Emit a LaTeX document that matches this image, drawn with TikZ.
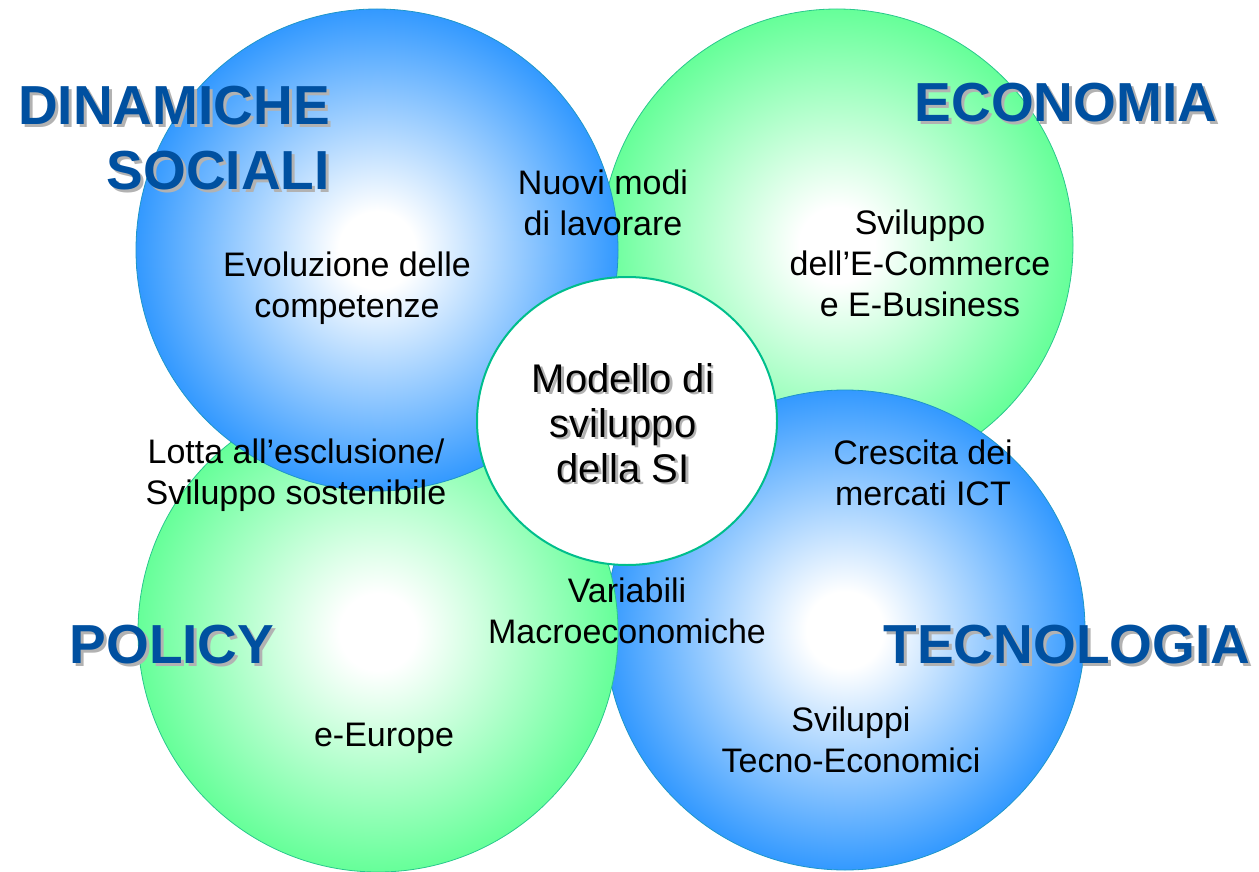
\documentclass[tikz,border=0pt]{standalone}
\usepackage{fontspec}
\setmainfont{Liberation Sans}

\definecolor{ballblue}{RGB}{51,153,255}
\definecolor{ballgreen}{RGB}{102,255,153}
\definecolor{rimblue}{RGB}{30,150,200}
\definecolor{rimgreen}{RGB}{40,200,140}
\definecolor{rimteal}{RGB}{0,190,140}
\definecolor{headblue}{RGB}{0,80,160}

\pgfdeclareradialshading{blueball}{\pgfpoint{0bp}{0bp}}{color(0bp)=(white); color(4bp)=(white); color(25bp)=(ballblue); color(50bp)=(ballblue)}
\pgfdeclareradialshading{greenball}{\pgfpoint{0bp}{0bp}}{color(0bp)=(white); color(4bp)=(white); color(25bp)=(ballgreen); color(50bp)=(ballgreen)}

\begin{document}
\begin{tikzpicture}[
        x=1pt, y=-1pt,
        ball/.style={line width=0.8pt},
        headline/.style={font=\fontsize{55}{65}\selectfont\bfseries, text=headblue, inner sep=0pt},
        headshadow/.style={headline, text=black!30},
        note/.style={font=\fontsize{34}{41}\selectfont, align=center, inner sep=0pt},
        hub/.style={font=\fontsize{40}{45}\selectfont, align=center, inner sep=0pt},
        hubshadow/.style={hub, text=black!30},
      ]

      \useasboundingbox (0,0) rectangle (1259,872);

      % spheres, back to front
      \shadedraw[ball, shading=greenball, draw=rimgreen] (837,245) circle (236pt);
      \shadedraw[ball, shading=blueball, draw=rimblue] (845,630) circle (240pt);
      \shadedraw[ball, shading=greenball, draw=rimgreen] (378,632) circle (240pt);
      \shadedraw[ball, shading=blueball, draw=rimblue] (377,250) circle (241pt);
      \draw[draw=rimteal, line width=2pt, fill=white] (627,421) ellipse [x radius=150pt, y radius=144pt];

      % headings with shadow
      \node[headshadow, anchor=east, align=right] (dinamiche-sh) at (333,141) {DINAMICHE\\SOCIALI};
      \node[headline, anchor=east, align=right] (dinamiche) at (330,138) {DINAMICHE\\SOCIALI};
      \node[headshadow] (economia-sh) at (1069,106) {ECONOMIA};
      \node[headline] (economia) at (1066,103) {ECONOMIA};
      \node[headshadow] (policy-sh) at (175,648) {POLICY};
      \node[headline] (policy) at (172,645) {POLICY};
      \node[headshadow] (tecnologia-sh) at (1070,648) {TECNOLOGIA};
      \node[headline] (tecnologia) at (1067,645) {TECNOLOGIA};

      % centre
      \node[hubshadow] (modello-sh) at (625.5,425.5) {Modello di\\sviluppo\\della SI};
      \node[hub] (modello) at (623,423) {Modello di\\sviluppo\\della SI};

      % overlaps and insides
      \node[note] (lavoro) at (603,203) {Nuovi modi\\di lavorare};
      \node[note] (competenze) at (347,288) {Evoluzione delle\\competenze};
      \node[note] (commerce) at (920,263) {Sviluppo\\dell’E-Commerce\\e E-Business};
      \node[note] (esclusione) at (296,475) {Lotta all’esclusione/\\Sviluppo sostenibile};
      \node[note] (mercati) at (923,473) {Crescita dei\\mercati ICT};
      \node[note] (macro) at (627,611) {Variabili\\Macroeconomiche};
      \node[note] (europe) at (384,738) {e-Europe};
      \node[note] (tecnoeco) at (851,740) {Sviluppi\\Tecno-Economici};

    \end{tikzpicture}
\end{document}
